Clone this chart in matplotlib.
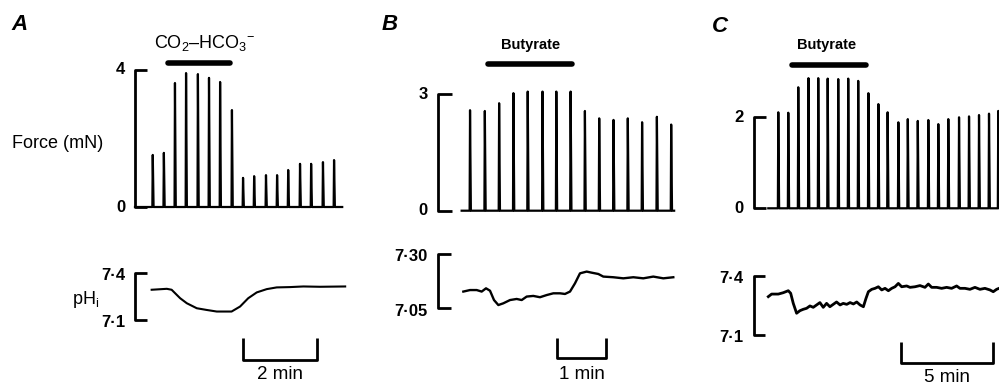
import matplotlib
matplotlib.use('Agg')
import matplotlib.pyplot as plt

plt.rcParams['font.family'] = ['Liberation Sans', 'DejaVu Sans']
plt.rcParams['mathtext.fontset'] = 'custom'
plt.rcParams['mathtext.rm'] = 'Liberation Sans'
plt.rcParams['mathtext.it'] = 'Liberation Sans:italic'
plt.rcParams['mathtext.bf'] = 'Liberation Sans:bold'

# ---------------- data (time in min, force in mN, pH units) ----------------
# Panel A : CO2-HCO3-
A_spike_t = [0.48, 0.78, 1.08, 1.38, 1.70, 2.00, 2.30, 2.62, 2.92, 3.22, 3.54,
             3.84, 4.14, 4.46, 4.76, 5.08, 5.38]
A_spike_f = [1.52, 1.58, 3.62, 3.91, 3.88, 3.77, 3.65, 2.83, 0.85, 0.90, 0.93,
             0.93, 1.08, 1.26, 1.26, 1.31, 1.37]
A_base_t = [0.0, 5.6]
A_ph_t = [0.45, 0.86, 0.99, 1.22, 1.40, 1.67, 1.94, 2.21, 2.61, 2.84, 3.06,
          3.29, 3.56, 3.83, 4.19, 4.55, 5.00, 5.68]
A_ph = [7.293, 7.299, 7.293, 7.239, 7.207, 7.175, 7.164, 7.154, 7.154, 7.186,
        7.239, 7.276, 7.297, 7.308, 7.310, 7.314, 7.312, 7.314]
A_bar_t = [0.89, 2.57]
A_force_ticks = [0, 4]
A_ph_ticks = [7.1, 7.4]
A_ph_ticklabels = ['7·1', '7·4']
A_scale_min = 2

# Panel B : Butyrate
B_spike_t = [0.66, 0.96, 1.25, 1.54, 1.83, 2.13, 2.41, 2.70, 2.99, 3.28, 3.57,
             3.86, 4.15, 4.45, 4.74]
B_spike_f = [2.59, 2.57, 2.77, 3.03, 3.07, 3.07, 3.07, 3.07, 2.57, 2.38, 2.34,
             2.38, 2.28, 2.42, 2.22]
B_base_t = [0.49, 4.80]
B_ph_t = [0.524, 0.659, 0.795, 0.896, 0.984, 1.065, 1.146, 1.234, 1.335, 1.471,
          1.606, 1.708, 1.809, 1.943, 2.079, 2.215, 2.349, 2.485, 2.586, 2.688,
          2.789, 2.890, 3.026, 3.128, 3.262, 3.363, 3.566, 3.769, 3.972, 4.174,
          4.377, 4.580, 4.783]
B_ph = [7.127, 7.134, 7.134, 7.127, 7.142, 7.131, 7.088, 7.065, 7.073, 7.088,
        7.093, 7.088, 7.104, 7.107, 7.101, 7.111, 7.119, 7.119, 7.116, 7.127,
        7.165, 7.211, 7.219, 7.214, 7.208, 7.196, 7.193, 7.188, 7.193, 7.188,
        7.196, 7.188, 7.193]
B_bar_t = [1.03, 2.72]
B_force_ticks = [0, 3]
B_ph_ticks = [7.05, 7.30]
B_ph_ticklabels = ['7·05', '7·30']
B_scale_min = 1

# Panel C : Butyrate
C_spike_t = [1.34, 1.88, 2.42, 2.97, 3.50, 4.01, 4.58, 5.12, 5.66, 6.21, 6.75,
             7.25, 7.83, 8.34, 8.88, 9.45, 9.99, 10.53, 11.11, 11.65, 12.19,
             12.73, 13.23]
C_spike_f = [2.11, 2.10, 2.66, 2.86, 2.86, 2.85, 2.84, 2.85, 2.80, 2.53, 2.29,
             2.11, 1.89, 1.96, 1.92, 1.94, 1.85, 1.96, 2.00, 2.02, 2.05, 2.08,
             2.14]
C_base_t = [0.80, 13.5]
C_ph_t = [0.80, 0.98, 1.34, 1.61, 1.88, 2.01, 2.15, 2.33, 2.51, 2.69, 2.87,
          3.05, 3.23, 3.41, 3.59, 3.77, 3.95, 4.13, 4.31, 4.49, 4.68, 4.85,
          5.04, 5.22, 5.40, 5.58, 5.76, 5.94, 6.08, 6.21, 6.39, 6.57, 6.75,
          6.93, 7.11, 7.29, 7.47, 7.65, 7.83, 8.01, 8.28, 8.46, 8.73, 9.00,
          9.27, 9.45, 9.63, 9.90, 10.17, 10.44, 10.71, 10.98, 11.16, 11.43,
          11.70, 11.97, 12.24, 12.51, 12.78, 12.96, 13.14, 13.27]
C_ph = [7.294, 7.307, 7.307, 7.314, 7.324, 7.311, 7.260, 7.210, 7.223, 7.230,
        7.235, 7.247, 7.240, 7.252, 7.264, 7.240, 7.260, 7.243, 7.255, 7.267,
        7.252, 7.260, 7.255, 7.264, 7.257, 7.267, 7.252, 7.243, 7.285, 7.319,
        7.331, 7.336, 7.344, 7.328, 7.336, 7.324, 7.336, 7.344, 7.361, 7.344,
        7.348, 7.341, 7.344, 7.350, 7.341, 7.358, 7.341, 7.341, 7.336, 7.341,
        7.336, 7.348, 7.336, 7.336, 7.331, 7.341, 7.331, 7.336, 7.328, 7.319,
        7.331, 7.336]
C_bar_t = [2.06, 6.08]
C_force_ticks = [0, 2]
C_ph_ticks = [7.1, 7.4]
C_ph_ticklabels = ['7·1', '7·4']
C_scale_min = 5

# ---------------- layout ----------------
W, H = 999, 387
fig = plt.figure(figsize=(W / 100, H / 100), dpi=100)


def axes_px(left, right, top, bottom, x0, sx, yref_px, yref_val, sy):
    ax = fig.add_axes([left / W, 1 - bottom / H, (right - left) / W, (bottom - top) / H])
    ax.set_xlim((left - x0) / sx, (right - x0) / sx)
    ax.set_ylim(yref_val - (bottom - yref_px) / sy, yref_val + (yref_px - top) / sy)
    ax.axis('off')
    return ax


def fig_text(x, y, s, **kw):
    fig.text(x / W, 1 - y / H, s, **kw)


def force_trace(base, ts, fs, hw):
    x = [base[0]]
    y = [0.0]
    for t, f in zip(ts, fs):
        x += [t - hw * 0.5, t, t + hw * 1.0]
        y += [0.0, f, 0.0]
    x.append(base[1])
    y.append(0.0)
    return x, y


num_kw = dict(fontsize=12, fontweight='bold', ha='right', va='center')
K = 'black'

panels = [
    dict(letter='A', lx=11, ly=25, left=0, right=365, x0=135, sx=37.0,
         fy0=207, fsy=34.25, ph_ref=(320, 7.1), phsy=156.7,
         st=A_spike_t, sf=A_spike_f, base=A_base_t, hw=0.022,
         pt=A_ph_t, pv=A_ph, bar=A_bar_t, bar_y=4.20,
         bar_label='CO$_2$–HCO$_3$$^{-}$', bl_x=1.88, bl_y=4.80, bl_kw=dict(fontsize=13),
         fticks=A_force_ticks, pticks=A_ph_ticks, plabels=A_ph_ticklabels,
         ftick_len=0.32, ptick_len=0.32, scale=A_scale_min, sc_t0=2.92,
         sc_top=6.985, sc_bot=6.845, sc_lab_y=6.75, ph_lw=1.5),
    dict(letter='B', lx=382, ly=25, left=365, right=690, x0=437.5, sx=49.3,
         fy0=210.7, fsy=38.8, ph_ref=(308.3, 7.05), phsy=217.2,
         st=B_spike_t, sf=B_spike_f, base=B_base_t, hw=0.017,
         pt=B_ph_t, pv=B_ph, bar=B_bar_t, bar_y=3.77,
         bar_label='Butyrate', bl_x=1.88, bl_y=4.27, bl_kw=dict(fontsize=10.5, fontweight='bold'),
         fticks=B_force_ticks, pticks=B_ph_ticks, plabels=B_ph_ticklabels,
         ftick_len=0.29, ptick_len=0.27, scale=B_scale_min, sc_t0=2.42,
         sc_top=6.912, sc_bot=6.820, sc_lab_y=6.743, ph_lw=1.7),
    dict(letter='C', lx=712, ly=27, left=690, right=999, x0=753.5, sx=18.5,
         fy0=208.3, fsy=45.5, ph_ref=(335, 7.1), phsy=197.7,
         st=C_spike_t, sf=C_spike_f, base=C_base_t, hw=0.045,
         pt=C_ph_t, pv=C_ph, bar=C_bar_t, bar_y=3.15,
         bar_label='Butyrate', bl_x=3.96, bl_y=3.59, bl_kw=dict(fontsize=10.5, fontweight='bold'),
         fticks=C_force_ticks, pticks=C_ph_ticks, plabels=C_ph_ticklabels,
         ftick_len=0.65, ptick_len=0.63, scale=C_scale_min, sc_t0=7.96,
         sc_top=7.066, sc_bot=6.956, sc_lab_y=6.885, ph_lw=2.0),
]

for p in panels:
    fig_text(p['lx'], p['ly'], p['letter'], fontsize=16, fontweight='bold',
             fontstyle='italic', ha='left', va='center')

    # ---- force axes ----
    axf = axes_px(p['left'], p['right'], 0, 230, p['x0'], p['sx'], p['fy0'], 0.0, p['fsy'])
    x, y = force_trace(p['base'], p['st'], p['sf'], p['hw'])
    axf.plot(x, y, color=K, lw=1.6, solid_joinstyle='round')
    lo, hi = p['fticks']
    axf.plot([p['ftick_len'], 0, 0, p['ftick_len']], [hi, hi, lo, lo], color=K, lw=2.0,
             solid_capstyle='butt', clip_on=False)
    for v in p['fticks']:
        axf.annotate(str(v), xy=(0, v), xytext=(-7, 0), textcoords='offset points', **num_kw)
    axf.plot(p['bar'], [p['bar_y'], p['bar_y']], color=K, lw=4.0, solid_capstyle='round')
    axf.text(p['bl_x'], p['bl_y'], p['bar_label'], ha='center', va='center', **p['bl_kw'])

    # ---- pH axes ----
    axp = axes_px(p['left'], p['right'], 230, 387, p['x0'], p['sx'], p['ph_ref'][0],
                  p['ph_ref'][1], p['phsy'])
    axp.plot(p['pt'], p['pv'], color=K, lw=p['ph_lw'], solid_joinstyle='round')
    plo, phi = p['pticks']
    axp.plot([p['ptick_len'], 0, 0, p['ptick_len']], [phi, phi, plo, plo], color=K, lw=2.0,
             solid_capstyle='butt')
    for v, lab in zip(p['pticks'], p['plabels']):
        axp.annotate(lab, xy=(0, v), xytext=(-7, -2), textcoords='offset points', **num_kw)
    t0 = p['sc_t0']
    t1 = t0 + p['scale']
    axp.plot([t0, t0, t1, t1], [p['sc_top'], p['sc_bot'], p['sc_bot'], p['sc_top']],
             color=K, lw=2.0, solid_capstyle='butt')
    axp.text((t0 + t1) / 2, p['sc_lab_y'], f"{p['scale']} min", ha='center', va='center',
             fontsize=13.5)

fig_text(12, 143, 'Force (mN)', fontsize=13, ha='left', va='center')
fig_text(72, 300, 'pH$_\\mathregular{i}$', fontsize=13, ha='left', va='center')

fig.savefig('out.png', dpi=100)
